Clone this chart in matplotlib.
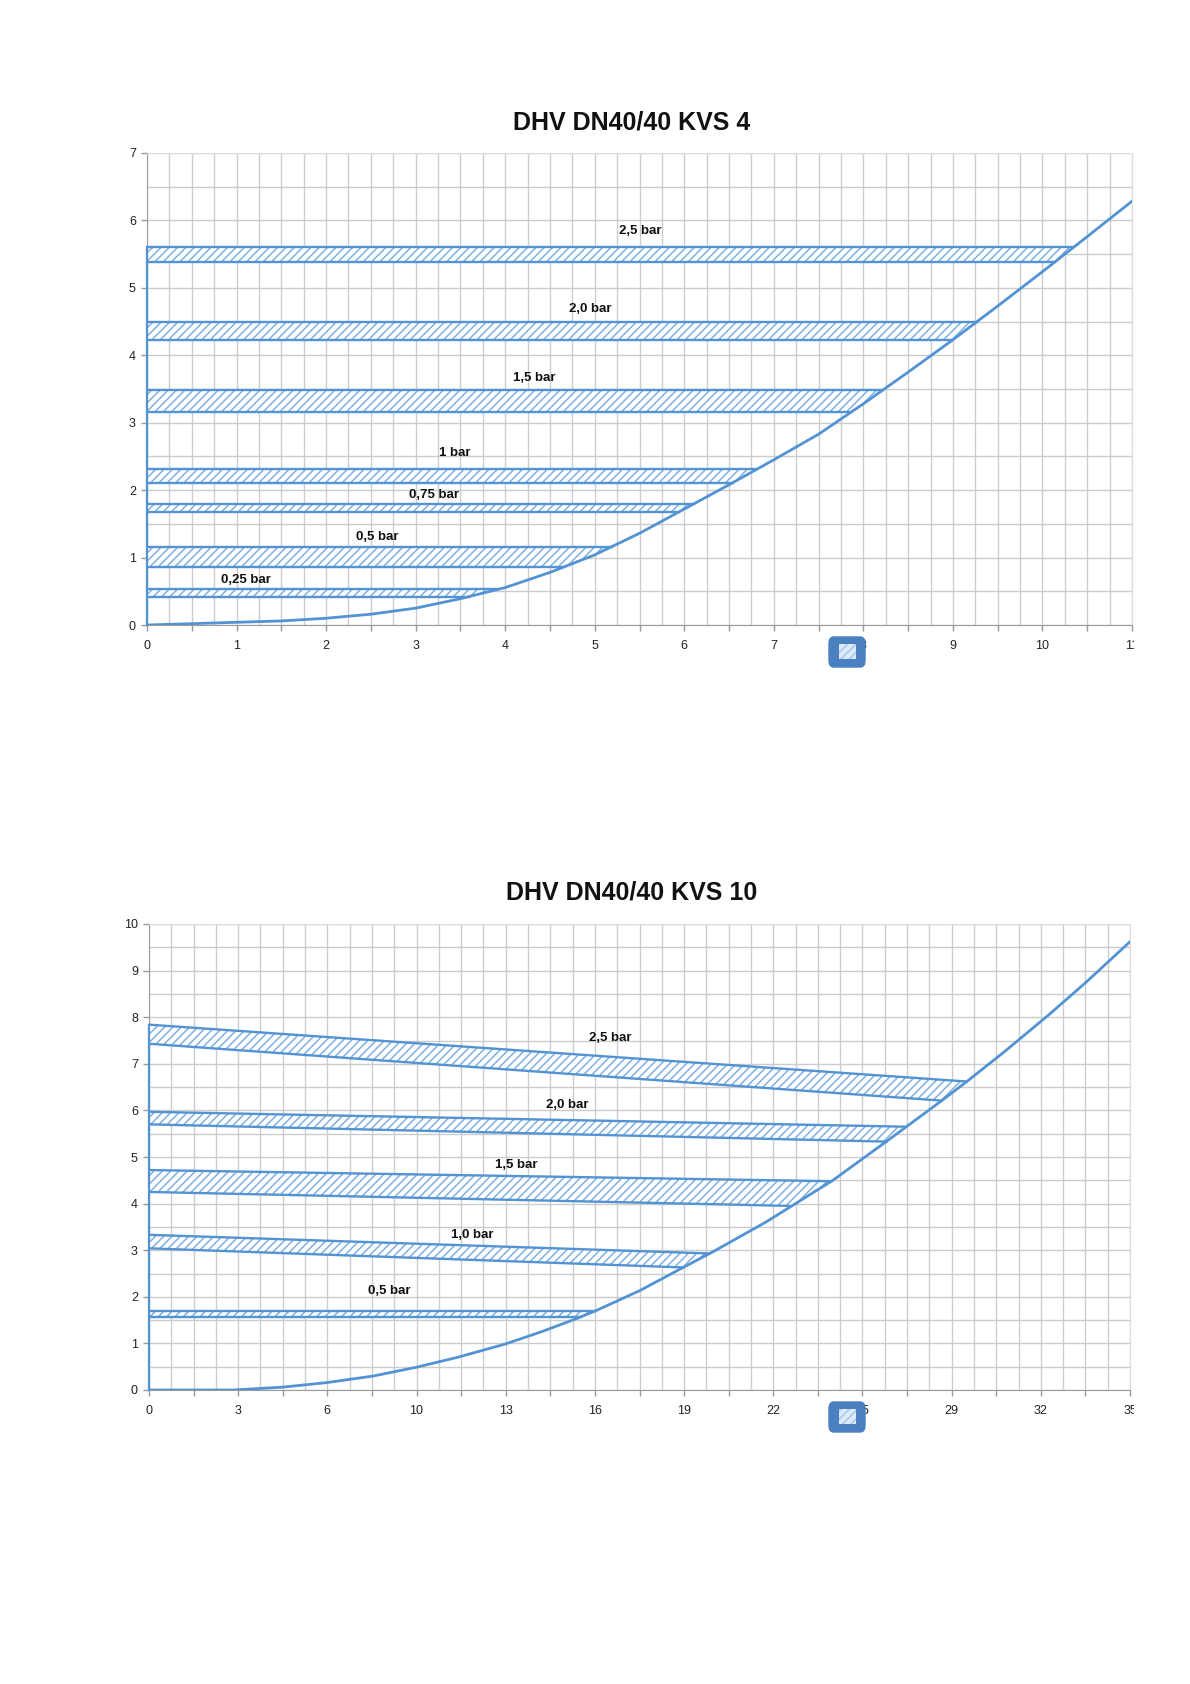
import numpy as np
import matplotlib.pyplot as plt
from matplotlib.patches import Polygon, FancyBboxPatch, Rectangle
from matplotlib.transforms import Bbox, TransformedBbox

plt.rcParams['font.family'] = ['Liberation Sans', 'DejaVu Sans']
plt.rcParams['hatch.linewidth'] = 1.1

BLEU = '#5393d3'
HACHURE = '#80b0e0'
GRILLE = '#cccccc'

# ---------- KVS 4 ----------
titre1 = "DHV DN40/40 KVS 4"
courbe1_x = [0, 0.5, 1, 1.5, 2, 2.5, 3, 3.5, 4, 4.5, 5, 5.5, 6, 6.5, 7, 7.5, 8, 8.5,
             9, 9.5, 10, 10.5, 11]
courbe1_y = [0, 0.02, 0.04, 0.06, 0.1, 0.16, 0.25, 0.39, 0.555, 0.78, 1.04, 1.36, 1.72,
             2.08, 2.45, 2.83, 3.28, 3.75, 4.23, 4.73, 5.24, 5.76, 6.285]
bandes1_noms = ["0,25 bar", "0,5 bar", "0,75 bar", "1 bar", "1,5 bar", "2,0 bar", "2,5 bar"]
bandes1_bas = [0.42, 0.86, 1.68, 2.11, 3.16, 4.22, 5.39]
bandes1_haut = [0.53, 1.16, 1.80, 2.31, 3.48, 4.50, 5.60]
etiq1_x = [1.11, 2.57, 3.2, 3.44, 4.33, 4.95, 5.51]
etiq1_y = [0.67, 1.30, 1.93, 2.55, 3.67, 4.69, 5.85]
xmax1, ymax1 = 11, 7
xlabels1 = ['0', '1', '2', '3', '4', '5', '6', '7', '8', '9', '10', '11']

# ---------- KVS 10 ----------
titre2 = "DHV DN40/40 KVS 10"
courbe2_x = [0, 3, 4.75, 6.36, 8, 9.55, 11, 12.73, 14, 15.2, 15.9, 17.5, 19.06, 20.1,
             22, 24.4, 26.3, 27, 28.26, 29.2, 30.5, 32.1, 33.45, 35]
courbe2_y = [0, 0, 0.06, 0.16, 0.3, 0.49, 0.70, 0.99, 1.25, 1.52, 1.69, 2.13, 2.63, 2.96,
             3.6, 4.5, 5.33, 5.64, 6.2, 6.63, 7.25, 8.05, 8.76, 9.62]
bandes2_noms = ["0,5 bar", "1,0 bar", "1,5 bar", "2,0 bar", "2,5 bar"]
bandes2_haut_g = [1.69, 3.33, 4.72, 5.97, 7.84]
bandes2_haut_d = [1.69, 2.93, 4.48, 5.65, 6.62]
bandes2_bas_g = [1.57, 3.04, 4.25, 5.70, 7.43]
bandes2_bas_d = [1.57, 2.63, 3.95, 5.33, 6.21]
etiq2_x = [8.58, 11.53, 13.1, 14.93, 16.46]
etiq2_y = [2.13, 3.32, 4.82, 6.11, 7.56]
xmax2, ymax2 = 35, 10
xlabels2 = ['0', '3', '6', '10', '13', '16', '19', '22', '25', '29', '32', '35']


def bande(ax, cx, cy, bas_g, bas_d, haut_g, haut_d):
    # bande hachuree entre deux droites, fermee a droite par la courbe
    cx = np.asarray(cx)
    cy = np.asarray(cy)
    xb = np.interp(bas_d, cy[1:], cx[1:])
    xh = np.interp(haut_d, cy[1:], cx[1:])
    milieu = [(x, y) for x, y in zip(cx, cy) if xb < x < xh]
    pts = [(0, bas_g), (xb, bas_d)] + milieu + [(xh, haut_d), (0, haut_g)]
    ax.add_patch(Polygon(pts, closed=True, facecolor='white', edgecolor=HACHURE,
                         hatch='////', linewidth=0, zorder=3))
    ax.plot([0, xb], [bas_g, bas_d], color=BLEU, lw=1.7, zorder=4)
    ax.plot([0, xh], [haut_g, haut_d], color=BLEU, lw=1.7, zorder=4)


def graphe(fig, rect, titre, titre_y, cx, cy, xmax, ymax, xlabels,
           bas_g, bas_d, haut_g, haut_d, noms, ex, ey):
    ax = fig.add_axes(rect)
    ax.set_xlim(0, xmax)
    ax.set_ylim(0, ymax)

    ax.set_xticks(np.linspace(0, xmax, 23))
    ax.set_xticklabels([xlabels[i // 2] if i % 2 == 0 else '' for i in range(23)])
    ax.set_xticks(np.linspace(0, xmax, 45), minor=True)
    ax.set_yticks(np.arange(0, ymax + 1))
    ax.set_yticks(np.arange(0, ymax + 0.5, 0.5), minor=True)
    ax.tick_params(axis='x', which='major', length=4, width=1, color='#999999',
                   labelsize=9, labelcolor='#222222', pad=7)
    ax.tick_params(axis='y', which='major', length=4, width=1, color='#999999',
                   labelsize=9, labelcolor='#222222', pad=4)
    ax.tick_params(which='minor', length=0)
    ax.grid(True, which='both', color=GRILLE, lw=1.0, zorder=0)
    ax.set_axisbelow(True)
    for s in ['top', 'right']:
        ax.spines[s].set_color('#dddddd')
    for s in ['left', 'bottom']:
        ax.spines[s].set_color('#9a9a9a')

    for i in range(len(noms)):
        bande(ax, cx, cy, bas_g[i], bas_d[i], haut_g[i], haut_d[i])
        ax.text(ex[i], ey[i], noms[i], fontsize=9.5, fontweight='bold',
                color='#111111', ha='center', va='center', zorder=6)
    ax.plot([0, 0], [0, max(haut_g)], color=BLEU, lw=1.6, zorder=4, clip_on=False)
    ax.plot(cx, cy, color=BLEU, lw=2.0, zorder=5)

    fig.text(0.531, titre_y, titre, fontsize=18, fontweight='bold',
             ha='center', va='center', color='#111111')

    # le dernier libelle est coupe au bord du graphique
    ax.get_xticklabels()
    dernier = ax.xaxis.get_major_ticks()[-1].label1
    dernier.set_clip_box(TransformedBbox(Bbox([[0, 0], [1134 / 1190, 1]]), fig.transFigure))
    dernier.set_clip_on(True)
    return ax


def legende(fig, y_haut):
    # pastille de legende qui recouvre un libelle de l'axe
    w, h = 36 / 1190, 30 / 1684
    x0 = 829 / 1190
    y0 = 1 - (y_haut + 30) / 1684
    fig.patches.append(FancyBboxPatch((x0, y0), w, h, boxstyle='round,pad=0,rounding_size=0.004',
                                      transform=fig.transFigure, facecolor='#4a7fc0',
                                      edgecolor='#4a7fc0', zorder=10))
    fig.patches.append(Rectangle((x0 + 10 / 1190, y0 + 8 / 1684), 17 / 1190, 15 / 1684,
                                 transform=fig.transFigure, facecolor='#dce9f7',
                                 edgecolor='#a9c8ea', hatch='////', lw=0, zorder=11))


fig = plt.figure(figsize=(11.9, 16.84), dpi=100)

graphe(fig, [147 / 1190, 1 - 625 / 1684, 985 / 1190, 472 / 1684], titre1, 1 - 122 / 1684,
       courbe1_x, courbe1_y, xmax1, ymax1, xlabels1,
       bandes1_bas, bandes1_bas, bandes1_haut, bandes1_haut, bandes1_noms, etiq1_x, etiq1_y)
legende(fig, 637)

graphe(fig, [149 / 1190, 1 - 1390 / 1684, 981 / 1190, 466 / 1684], titre2, 1 - 892 / 1684,
       courbe2_x, courbe2_y, xmax2, ymax2, xlabels2,
       bandes2_bas_g, bandes2_bas_d, bandes2_haut_g, bandes2_haut_d, bandes2_noms,
       etiq2_x, etiq2_y)
legende(fig, 1402)

fig.savefig("out.png", dpi=100)
plt.close()
